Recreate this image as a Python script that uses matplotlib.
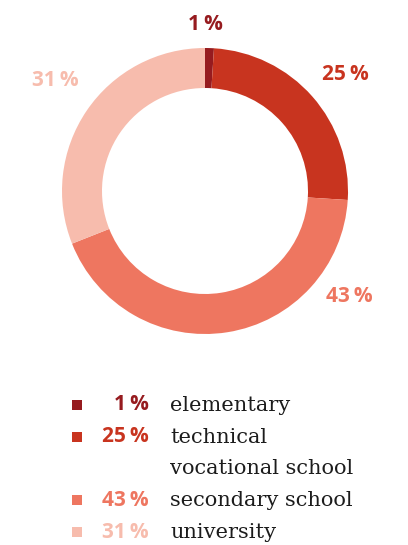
import matplotlib.pyplot as plt

# data
labels = ["elementary", "technical\nvocational school", "secondary school", "university"]
shares = [1, 25, 43, 31]
colors = ["#961b1f", "#c8341f", "#ee7660", "#f7bcad"]

W, H = 408, 545
fig = plt.figure(figsize=(W / 100, H / 100), dpi=100)
ax = fig.add_axes([0, 0, 1, 1])

# donut, center/radius in pixel units (y measured from bottom)
cx, cy, r = 205, H - 191, 143
ax.pie(shares, colors=colors, startangle=90, counterclock=False,
       center=(cx, cy), radius=r, frame=True,
       wedgeprops=dict(width=40, edgecolor="none"))
ax.set_xlim(0, W)
ax.set_ylim(0, H)
ax.set_aspect("auto")
ax.axis("off")

# labels around the ring
label_pos = [(205, 24), (345, 75), (349, 297), (55, 80)]
for s, c, (x, y) in zip(shares, colors, label_pos):
    ax.text(x, H - y, f"{s}\u2009%", color=c, ha="center", va="center",
            family="Open Sans", weight="bold", fontsize=15)

# legend: one row per category, extra lines of a label go below
rows = [405, 437, 500, 532]
line_gap = 31
for s, c, lab, y in zip(shares, colors, labels, rows):
    ax.scatter([77], [H - y], marker="s", s=62, color=c, linewidths=0)
    ax.text(149, H - y, f"{s}\u2009%", color=c, ha="right", va="center",
            family="Open Sans", weight="bold", fontsize=15)
    for i, part in enumerate(lab.split("\n")):
        ax.text(170, H - y - 6 - i * line_gap, part, color="#1c1c1c",
                ha="left", va="baseline", family="DejaVu Serif",
                fontsize=15)

fig.savefig("out.png", dpi=100)
